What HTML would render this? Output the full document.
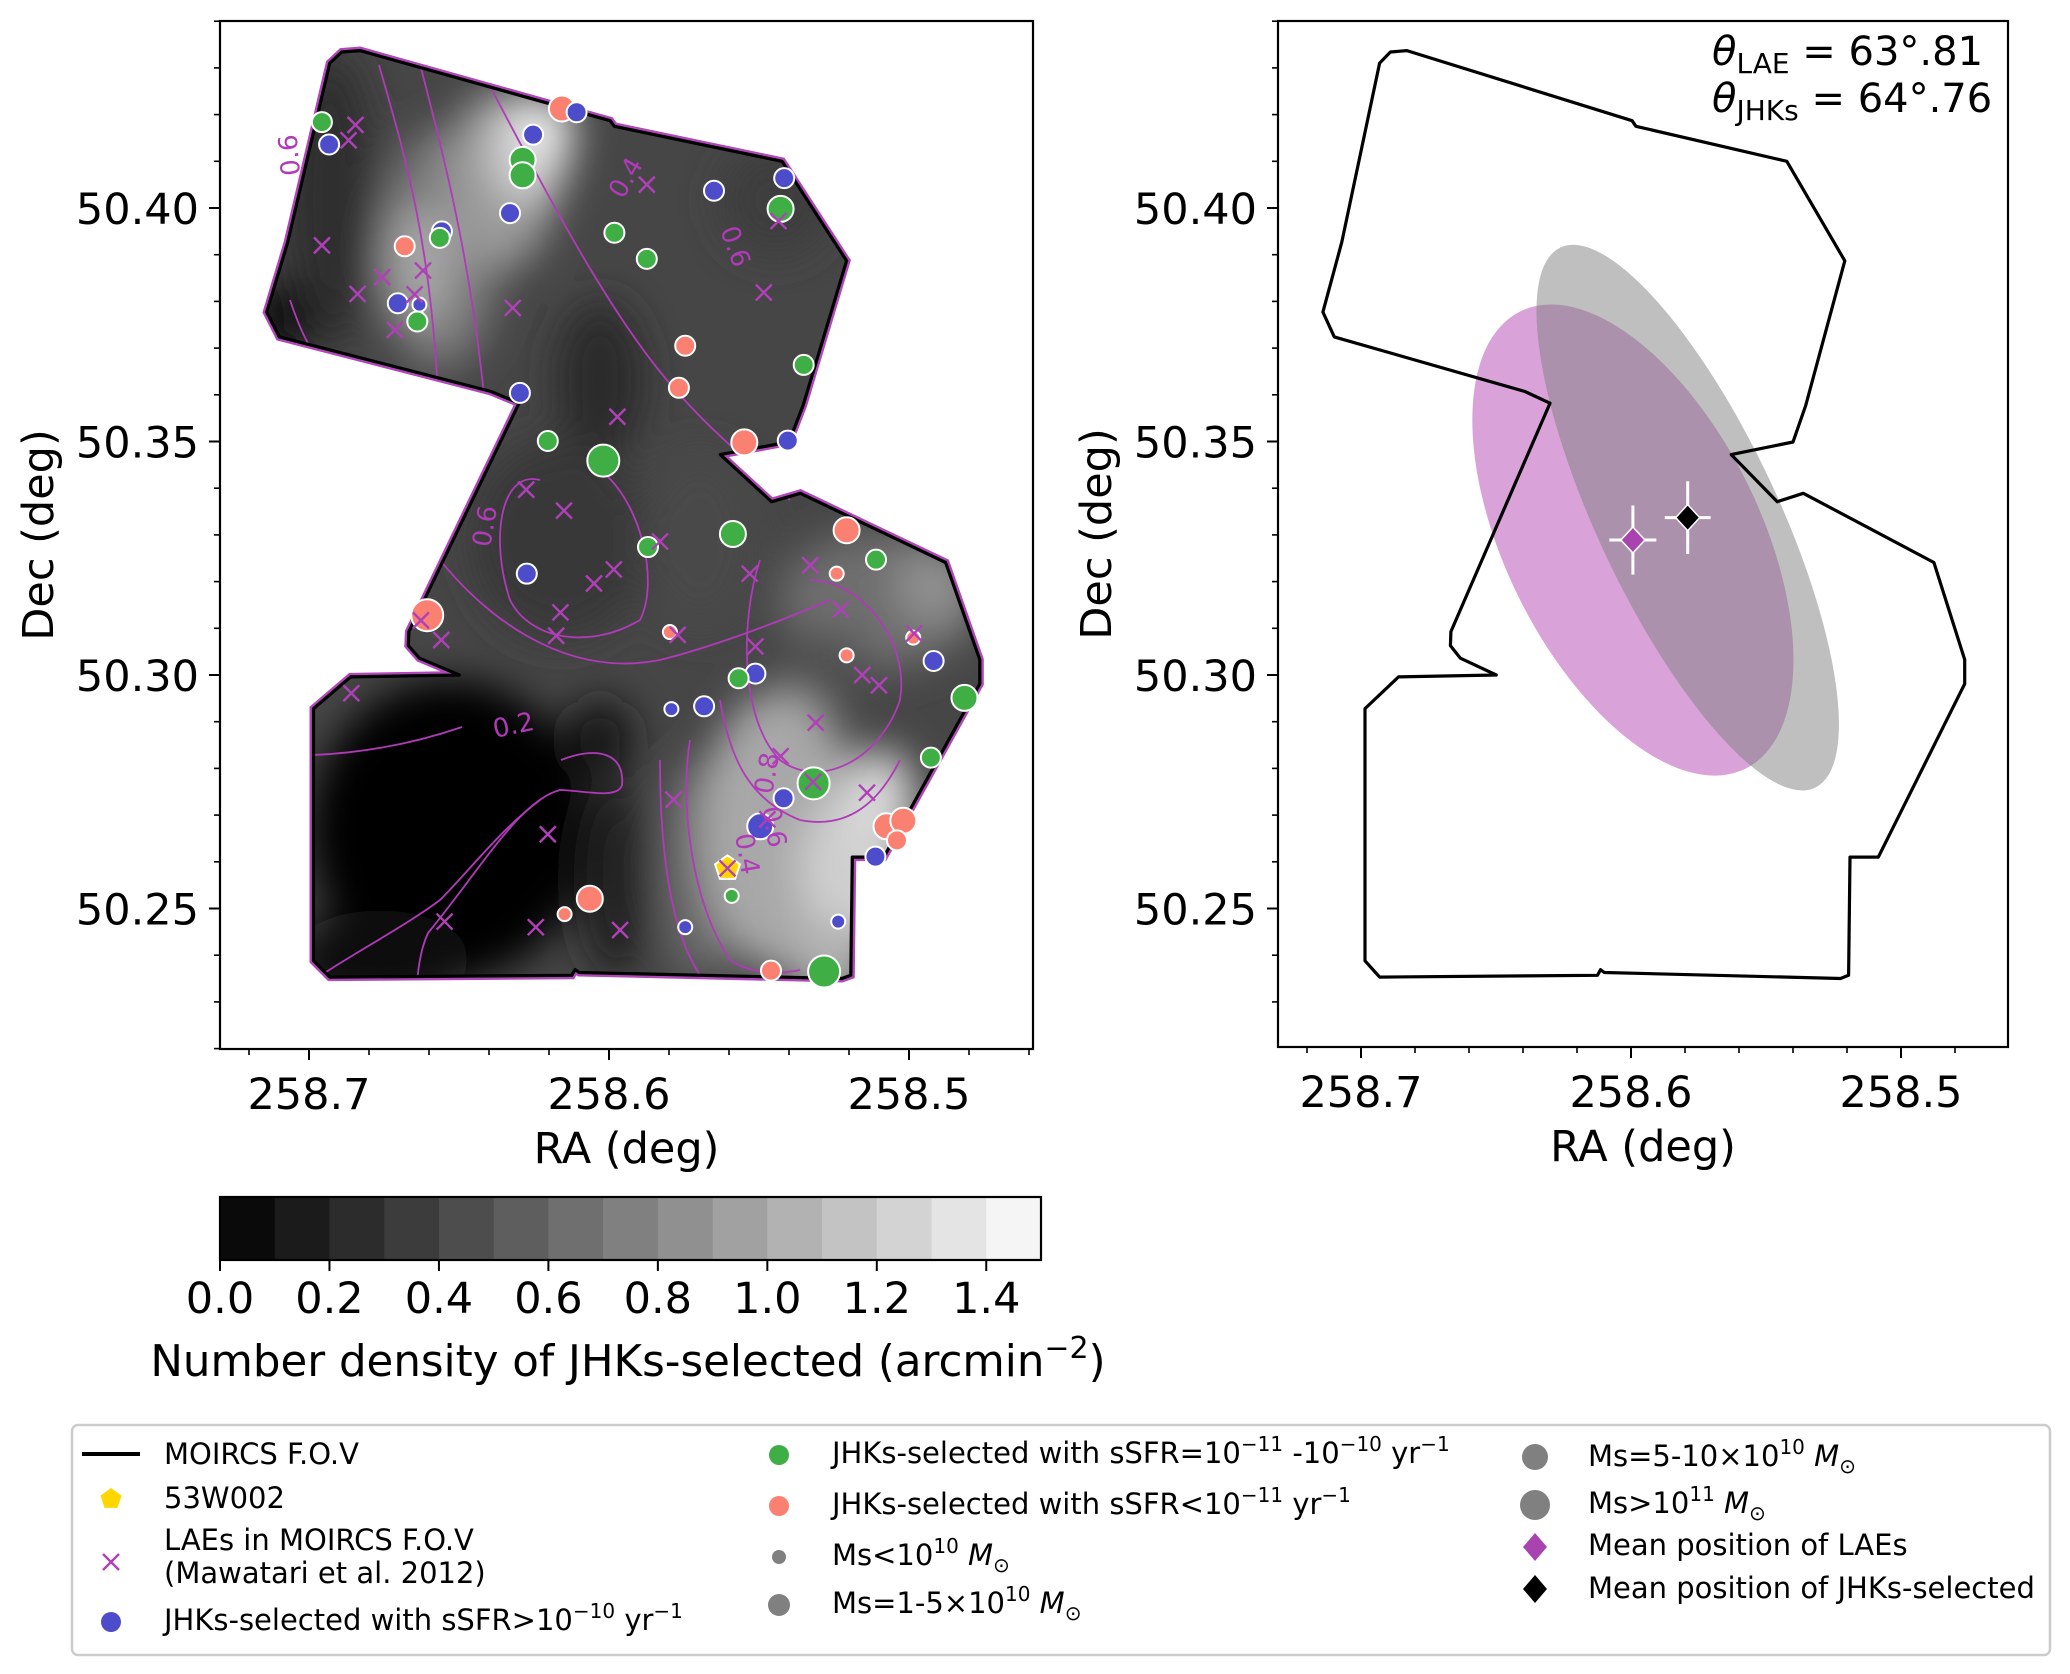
<!DOCTYPE html>
<html><head><meta charset="utf-8">
<style>
html,body{margin:0;padding:0;background:#fff;}
svg{display:block;font-family:"DejaVu Sans","Liberation Sans",sans-serif;}
</style></head>
<body>
<svg id="fig" width="2070" height="1674" viewBox="0 0 2070 1674" xmlns="http://www.w3.org/2000/svg">
<defs>
<filter id="blur" x="-50%" y="-50%" width="200%" height="200%"><feGaussianBlur stdDeviation="20"/></filter>
<clipPath id="fpclip"><polygon id="fpclipPoly" points=""/></clipPath>
</defs>
</svg>
<script>
// ---------------- data ----------------
const raMajor=[258.7,258.6,258.5];
const raMajorLabels=["258.7","258.6","258.5"];
const decMajor=[50.40,50.35,50.30,50.25];
const decMajorLabels=["50.40","50.35","50.30","50.25"];
const fovRA=[258.6891,258.6830,258.5996,258.5982,258.5423,258.5208,258.5353,258.5400,258.5629,258.5458,258.5362,258.4878,258.4764,258.4764,258.5084,258.5189,258.5194,258.5224,258.6099,258.6113,258.6124,258.6931,258.6985,258.6985,258.6861,258.6499,258.6632,258.6669,258.6667,258.6300,258.6393,258.7099,258.7141,258.7071,258.6931];
const fovDec=[50.4334,50.4337,50.4187,50.4175,50.4100,50.3887,50.3577,50.3499,50.3472,50.3371,50.3389,50.3241,50.3033,50.2981,50.2610,50.2610,50.2357,50.2350,50.2363,50.2369,50.2357,50.2353,50.2388,50.2928,50.2996,50.3000,50.3036,50.3063,50.3093,50.3582,50.3607,50.3724,50.3777,50.3927,50.4310];
const greenRA=[258.6957,258.6288,258.6288,258.6564,258.6639,258.5982,258.5874,258.5428,258.5351,258.6204,258.6019,258.5587,258.5870,258.5110,258.5568,258.4815,258.4927,258.5318,258.5591,258.5283];
const greenDec=[50.4184,50.4103,50.4070,50.3936,50.3757,50.3947,50.3891,50.3998,50.3664,50.3501,50.3459,50.3302,50.3274,50.3247,50.2993,50.2951,50.2823,50.2768,50.2527,50.2365];
const greenMass=[1,2,2,1,1,1,1,2,1,1,3,2,1,1,1,2,1,3,0,3];
const blueRA=[258.6933,258.6253,258.6108,258.6330,258.6557,258.6704,258.6632,258.5650,258.5416,258.6297,258.5404,258.6274,258.5512,258.5683,258.5792,258.5418,258.5496,258.4918,258.5112,258.5746,258.5236];
const blueDec=[50.4136,50.4157,50.4205,50.3989,50.3950,50.3796,50.3793,50.4037,50.4064,50.3604,50.3502,50.3217,50.3003,50.2933,50.2927,50.2736,50.2676,50.3030,50.2611,50.2460,50.2472];
const blueMass=[1,1,1,1,1,1,0,1,1,1,1,1,1,1,0,1,2,1,1,0,0];
const redRA=[258.6157,258.6681,258.5746,258.5767,258.5549,258.5208,258.6606,258.5797,258.5208,258.5241,258.4986,258.5075,258.5019,258.5040,258.6064,258.6148,258.5460];
const redDec=[50.4213,50.3918,50.3705,50.3615,50.3498,50.3310,50.3128,50.3092,50.3042,50.3217,50.3080,50.2676,50.2688,50.2646,50.2521,50.2488,50.2367];
const redMass=[2,1,1,1,2,2,3,0,0,0,0,2,2,1,2,0,1];
const laeRA=[258.6845,258.6868,258.6957,258.6838,258.6756,258.6620,258.6714,258.6648,258.6321,258.5874,258.5484,258.5435,258.5972,258.6276,258.6150,258.5830,258.5984,258.6050,258.6162,258.6176,258.6559,258.6627,258.6859,258.5771,258.5531,258.5329,258.5227,258.5512,258.4983,258.5156,258.5100,258.5311,258.5428,258.5785,258.5320,258.5472,258.5140,258.5605,258.6204,258.6548,258.6244,258.5963];
const laeDec=[50.4178,50.4145,50.3920,50.3816,50.3852,50.3866,50.3739,50.3815,50.3786,50.4050,50.3819,50.3972,50.3553,50.3397,50.3352,50.3286,50.3226,50.3196,50.3134,50.3084,50.3075,50.3117,50.2961,50.3086,50.3217,50.3235,50.3140,50.3061,50.3089,50.3000,50.2978,50.2898,50.2826,50.2733,50.2771,50.2691,50.2748,50.2586,50.2659,50.2472,50.2460,50.2454];
const radioRA=[258.5605];
const radioDec=[50.2586];
const meanRA=[258.5993,258.5790];
const meanDec=[50.3289,50.3337];
const meanErrRA=[0.0087,0.0085];
const meanErrDec=[0.0074,0.0078];
const ellA=[0.0944,0.1106];
const ellB=[0.0473,0.0334];
const ellTheta=[63.81,64.76];
const cbTicks=[0.0,0.2,0.4,0.6,0.8,1.0,1.2,1.4];
const cbLevels=[0,0.1,0.2,0.3,0.4,0.5,0.6,0.7,0.8,0.9,1.0,1.1,1.2,1.3,1.4,1.5];

// ---------------- helpers ----------------
const NS="http://www.w3.org/2000/svg";
const svg=document.getElementById('fig');
function mk(tag,attrs,parent){const e=document.createElementNS(NS,tag);for(const k in attrs)e.setAttribute(k,attrs[k]);(parent||svg).appendChild(e);return e;}
const massR=[7,10,13,16];
const AX1={x0:220,x1:1033,y0:21,y1:1049,ox:309,sx:3000};
const AX2={x0:1278,x1:2008,y0:21,y1:1047,ox:1361,sx:2700};
const oy=208, sy=4670;
function X(ax,ra){return ax.ox+(258.7-ra)*ax.sx;}
function Y(dec){return oy+(50.40-dec)*sy;}
function fovPts(ax){return fovRA.map((r,i)=>X(ax,r).toFixed(1)+','+Y(fovDec[i]).toFixed(1)).join(' ');}

function drawAxes(ax,name){
  const g=mk('g',{});
  
  
  const fr=mk('rect',{x:ax.x0,y:ax.y0,width:ax.x1-ax.x0,height:ax.y1-ax.y0,fill:'none',stroke:'#000','stroke-width':2.2},g);
  
  
  for(let v=258.72;v>=258.455;v-=0.02){const x=X(ax,v);if(x<ax.x0||x>ax.x1)continue;
    const t=mk('line',{x1:x,x2:x,y1:ax.y1,y2:ax.y1+6,stroke:'#000','stroke-width':1.6},g);
    
    }
  for(let v=50.22;v<=50.441;v+=0.01){const y=Y(v);if(y<ax.y0||y>ax.y1)continue;
    const t=mk('line',{x1:ax.x0-6,x2:ax.x0,y1:y,y2:y,stroke:'#000','stroke-width':1.6},g);
    
    }
  raMajor.forEach((v,i)=>{const x=X(ax,v);
    const t=mk('line',{x1:x,x2:x,y1:ax.y1,y2:ax.y1+11,stroke:'#000','stroke-width':2},g);
    
    
    const tx=mk('text',{x:x,y:ax.y1+60,'text-anchor':'middle','font-size':43},g);tx.textContent=raMajorLabels[i];
    
    });
  decMajor.forEach((v,i)=>{const y=Y(v);
    const t=mk('line',{x1:ax.x0-11,x2:ax.x0,y1:y,y2:y,stroke:'#000','stroke-width':2},g);
    
    
    const tx=mk('text',{x:ax.x0-21,y:y+16,'text-anchor':'end','font-size':43},g);tx.textContent=decMajorLabels[i];
    
    });
  const xl=mk('text',{x:(ax.x0+ax.x1)/2,y:ax.y1+114,'text-anchor':'middle','font-size':43},g);xl.textContent='RA (deg)';
  
  
  const yl=mk('text',{x:0,y:0,'text-anchor':'middle','font-size':43,transform:`translate(${ax.x0-167},${(ax.y0+ax.y1)/2}) rotate(-90)`},g);yl.textContent='Dec (deg)';
  
  
}

// ---------------- left panel ----------------
document.getElementById('fpclipPoly').setAttribute('points',fovPts(AX1));
const edge=mk('polygon',{points:fovPts(AX1),fill:'none',stroke:'#b048b8','stroke-width':8});


const field=mk('g',{'clip-path':'url(#fpclip)'});


mk('rect',{x:AX1.x0,y:AX1.y0,width:AX1.x1-AX1.x0,height:AX1.y1-AX1.y0,fill:'#464646'},field);
const blobs=mk('g',{filter:'url(#blur)'},field);
[[330,200,45,150,'#2e2e2e'],[280,320,30,40,'#0a0a0a'],
 [440,250,60,120,'#7a7a7a'],[420,265,35,60,'#a5a5a5'],[500,180,55,90,'#9a9a9a'],[530,150,40,55,'#d0d0d0'],[548,128,25,30,'#f2f2f2'],
 [600,380,45,80,'#2c2c2c'],[560,540,90,100,'#373737'],[700,540,60,90,'#4a4a4a'],
 [450,830,140,150,'#060606'],[380,960,90,50,'#070707'],[600,740,35,40,'#181818'],[615,880,35,100,'#242424'],
 [880,600,100,70,'#6e6e6e'],[935,585,40,40,'#909090'],[826,665,40,35,'#4f4f4f'],
 [700,870,40,110,'#6a6a6a'],[780,830,80,140,'#a8a8a8'],[855,870,55,80,'#cfcfcf'],[880,800,35,50,'#d8d8d8'],[830,960,40,40,'#b0b0b0'],
 [775,200,55,55,'#3d3d3d']]
 .forEach(b=>mk('ellipse',{cx:b[0],cy:b[1],rx:b[2],ry:b[3],fill:b[4]},blobs));
const contours=mk('g',{fill:'none',stroke:'#b03ab8','stroke-width':1.8},field);


['M314,755 C380,752 430,738 462,727',
 'M561,760 C600,745 625,755 622,785 C618,800 580,790 560,790 C520,800 480,870 428,933 C420,950 417,975 417,990',
 'M379,65 C400,140 430,230 438,395',
 'M421,68 C445,160 470,260 484,395',
 'M491,88 C560,220 620,330 680,395 C720,440 760,470 790,500',
 'M540,480 C500,470 490,540 510,600 C530,640 590,650 640,620 C660,580 640,500 600,470',
 'M440,560 C480,610 560,680 660,660 C700,650 760,630 830,600',
 'M760,560 C740,620 740,720 780,760 C820,790 880,760 900,700 C910,640 860,580 810,580',
 'M690,740 C680,800 690,900 730,960 C760,980 800,970 800,970',
 'M720,700 C730,760 750,800 800,820 C850,830 880,800 900,760',
 'M660,760 C660,850 670,930 700,975',
 'M300,990 C340,960 400,930 440,900 C470,870 500,830 540,800',
 'M290,300 C300,330 310,350 320,360']
 .forEach(d=>mk('path',{d:d},contours));
const fov1=mk('polygon',{points:fovPts(AX1),fill:'none',stroke:'#000','stroke-width':3.2,'stroke-linejoin':'round'});



function drawCross(cx,cy,s,col,parent){
  const g=mk('g',{stroke:col,'stroke-width':2.4},parent);
  mk('line',{x1:cx-s,y1:cy-s,x2:cx+s,y2:cy+s},g);mk('line',{x1:cx-s,y1:cy+s,x2:cx+s,y2:cy-s},g);return g;}
function pentagon(cx,cy,r){let p=[];for(let k=0;k<5;k++){const a=-Math.PI/2+k*2*Math.PI/5;p.push((cx+r*Math.cos(a)).toFixed(1)+','+(cy+r*Math.sin(a)).toFixed(1));}return p.join(' ');}

const gPts=mk('g',{});


function drawGroup(ras,decs,mass,col,name){ras.forEach((r,i)=>{
  const c=mk('circle',{cx:X(AX1,r),cy:Y(decs[i]),r:massR[mass[i]],fill:col,stroke:'#fff','stroke-width':2},gPts);
  
  });}
drawGroup(redRA,redDec,redMass,'#fa8072','jhks-low-ssfr-point');
drawGroup(blueRA,blueDec,blueMass,'#4d4dcc','jhks-high-ssfr-point');
drawGroup(greenRA,greenDec,greenMass,'#3fae45','jhks-mid-ssfr-point');
radioRA.forEach((r,i)=>{
  const p=mk('polygon',{points:pentagon(X(AX1,r),Y(radioDec[i]),13),fill:'#ffd700',stroke:'#fff','stroke-width':2});
  
  });
laeRA.forEach((r,i)=>{
  const c=drawCross(X(AX1,r),Y(laeDec[i]),8,'#b040b8');
  
  });
[[495,738,'0.2',-12],[490,548,'0.6',-80],[300,175,'0.6',-95],[735,835,'0.4',80],[762,808,'0.6',80],[772,795,'0.8',-80],[720,230,'0.6',70],[623,200,'0.4',-60]].forEach(l=>{
  const t=mk('text',{x:0,y:0,'font-size':26,fill:'#b03ab8',transform:`translate(${l[0]},${l[1]}) rotate(${l[3]})`});t.textContent=l[2];
  
  });
drawAxes(AX1,'left');

// ---------------- right panel ----------------
const gEll=mk('g',{});


const ellCol=['rgb(180,70,180)','rgb(128,128,128)'];
[0,1].forEach(i=>{const cx=X(AX2,meanRA[i]),cy=Y(meanDec[i]);
  const e=mk('ellipse',{cx:cx,cy:cy,rx:ellA[i]*AX2.sx,ry:ellB[i]*AX2.sx,fill:ellCol[i],'fill-opacity':0.5,transform:`rotate(${ellTheta[i]} ${cx} ${cy})`},gEll);
  
  });
const fov2=mk('polygon',{points:fovPts(AX2),fill:'none',stroke:'#000','stroke-width':3.2,'stroke-linejoin':'round'});


const meanCol=['#a843b0','#000'];
[0,1].forEach(i=>{const cx=X(AX2,meanRA[i]),cy=Y(meanDec[i]);
  const g=mk('g',{});
  
  
  const ex=meanErrRA[i]*AX2.sx, ey=meanErrDec[i]*sy;
  mk('line',{x1:cx-ex,x2:cx+ex,y1:cy,y2:cy,stroke:'#fff','stroke-width':3},g);
  mk('line',{x1:cx,x2:cx,y1:cy-ey,y2:cy+ey,stroke:'#fff','stroke-width':3},g);
  mk('polygon',{points:`${cx},${cy-13} ${cx+12},${cy} ${cx},${cy+13} ${cx-12},${cy}`,fill:meanCol[i],stroke:'#fff','stroke-width':1.5},g);});
const th=mk('text',{x:1712,y:65,'font-size':40});


th.innerHTML='<tspan font-style="italic">θ</tspan><tspan font-size="28" dy="8">LAE</tspan><tspan dy="-8"> = 63°.81</tspan>';
const th2=mk('text',{x:1712,y:112,'font-size':40});


th2.innerHTML='<tspan font-style="italic">θ</tspan><tspan font-size="28" dy="8">JHKs</tspan><tspan dy="-8"> = 64°.76</tspan>';
drawAxes(AX2,'right');

// ---------------- colorbar ----------------
const cb={x0:220,x1:1041,y0:1197,y1:1260,vmax:1.5};
const gcb=mk('g',{});


function CX(v){return cb.x0+v/cb.vmax*(cb.x1-cb.x0);}
for(let i=0;i<cbLevels.length-1;i++){const g=Math.round(10+(i/14)*235);
  const r=mk('rect',{x:CX(cbLevels[i]),y:cb.y0,width:CX(cbLevels[i+1])-CX(cbLevels[i])+0.5,height:cb.y1-cb.y0,fill:`rgb(${g},${g},${g})`},gcb);
  
  }
mk('rect',{x:cb.x0,y:cb.y0,width:cb.x1-cb.x0,height:cb.y1-cb.y0,fill:'none',stroke:'#000','stroke-width':2.2},gcb);
cbTicks.forEach(v=>{const x=CX(v);
  mk('line',{x1:x,x2:x,y1:cb.y1,y2:cb.y1+11,stroke:'#000','stroke-width':2},gcb);
  const t=mk('text',{x:x,y:1313,'text-anchor':'middle','font-size':43},gcb);t.textContent=v.toFixed(1);
  
  });
const cbl=mk('text',{x:628,y:1376,'text-anchor':'middle','font-size':43.5},gcb);


cbl.innerHTML='Number density of JHKs-selected (arcmin<tspan font-size="30" dy="-18">−2</tspan><tspan dy="18">)</tspan>';

// ---------------- legend ----------------
const lg=mk('g',{'font-size':29});


mk('rect',{x:72,y:1425,width:1978,height:230,rx:6,fill:'#fff',stroke:'#cccccc','stroke-width':2.5},lg);
function ltext(x,y,html,name){const t=mk('text',{x:x,y:y+10},lg);t.innerHTML=html;
  
  return t;}
const sup=s=>`<tspan font-size="20" dy="-12">${s}</tspan><tspan dy="12"> </tspan>`;
const msun='<tspan font-style="italic">M</tspan><tspan font-size="20" dy="7">⊙</tspan>';
mk('line',{x1:82,x2:140,y1:1454,y2:1454,stroke:'#000','stroke-width':4},lg);
ltext(164,1454,'MOIRCS F.O.V','legend-fov');
mk('polygon',{points:pentagon(111,1499,11),fill:'#ffd700'},lg);
ltext(164,1498,'53W002','legend-53w002');
drawCross(111,1562,8,'#b040b8',lg);
ltext(164,1540,'LAEs in MOIRCS F.O.V','legend-lae');
ltext(164,1573,'(Mawatari et al. 2012)','legend-lae-ref');
mk('circle',{cx:111,cy:1622,r:10,fill:'#4d4dcc'},lg);
ltext(164,1620,'JHKs-selected with sSFR&gt;10'+sup('−10')+'yr'+sup('−1'),'legend-blue');
mk('circle',{cx:779,cy:1455,r:10,fill:'#3fae45'},lg);
ltext(832,1453,'JHKs-selected with sSFR=10'+sup('−11')+'-10'+sup('−10')+'yr'+sup('−1'),'legend-green');
mk('circle',{cx:779,cy:1506,r:10,fill:'#fa8072'},lg);
ltext(832,1504,'JHKs-selected with sSFR&lt;10'+sup('−11')+'yr'+sup('−1'),'legend-red');
mk('circle',{cx:779,cy:1557,r:7,fill:'#808080'},lg);
ltext(832,1555,'Ms&lt;10'+sup('10')+msun,'legend-mass-small');
mk('circle',{cx:779,cy:1605,r:11,fill:'#808080'},lg);
ltext(832,1603,'Ms=1-5×10'+sup('10')+msun,'legend-mass-mid');
mk('circle',{cx:1535,cy:1457,r:13,fill:'#808080'},lg);
ltext(1588,1456,'Ms=5-10×10'+sup('10')+msun,'legend-mass-big');
mk('circle',{cx:1535,cy:1505,r:15,fill:'#808080'},lg);
ltext(1588,1503,'Ms&gt;10'+sup('11')+msun,'legend-mass-huge');
mk('polygon',{points:'1535,1533 1547,1547 1535,1561 1523,1547',fill:'#a843b0'},lg);
ltext(1588,1545,'Mean position of LAEs','legend-mean-lae');
mk('polygon',{points:'1535,1575 1547,1589 1535,1603 1523,1589',fill:'#000'},lg);
ltext(1588,1588,'Mean position of JHKs-selected','legend-mean-jhks');
</script>
</body></html>
